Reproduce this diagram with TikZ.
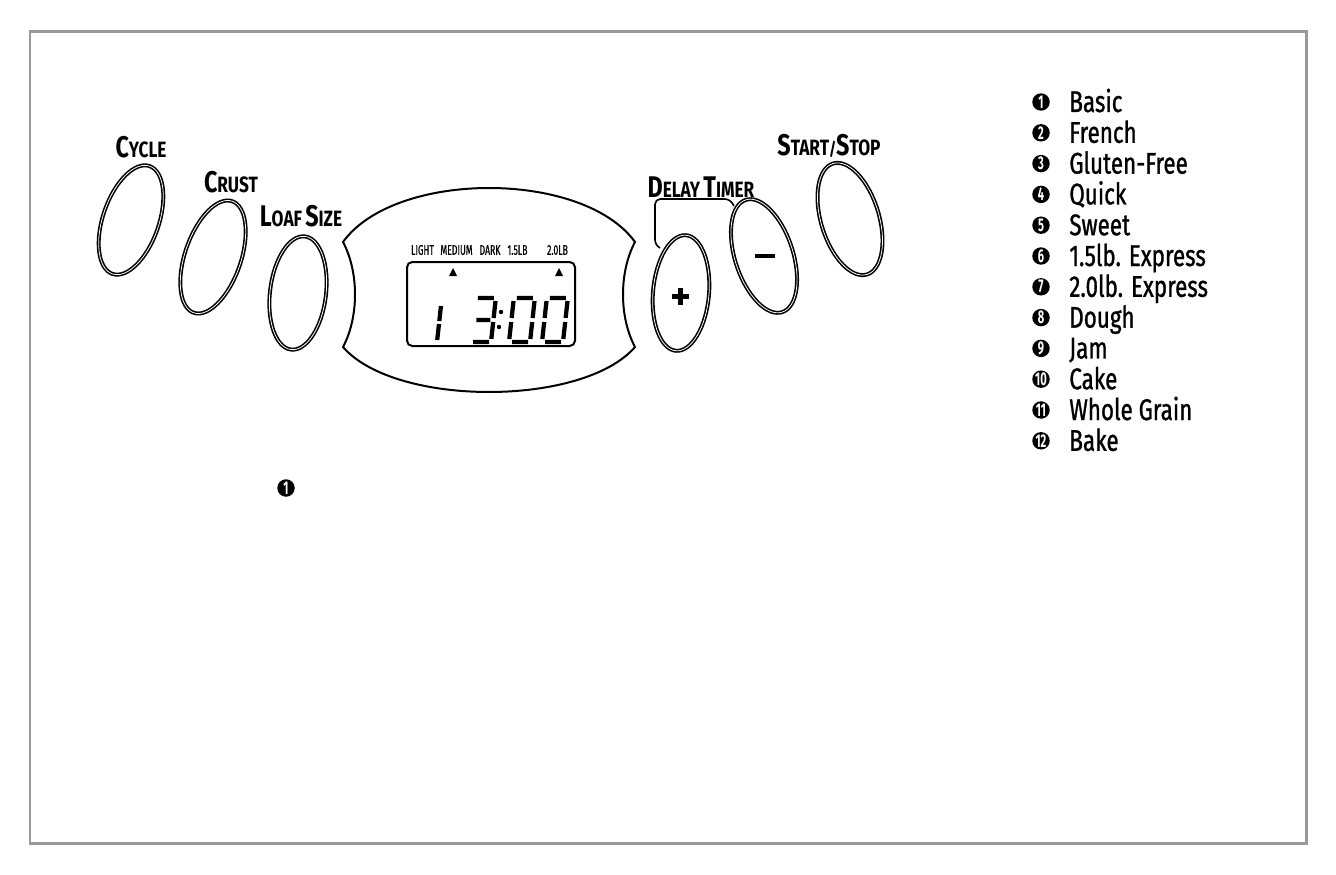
\documentclass[tikz,border=0pt]{standalone}
\usepackage{fontspec}
\setmainfont{Fira Sans}[FakeStretch=0.78]
\newfontfamily\legendfont{Fira Sans}[FakeStretch=0.75, FakeBold=1]
\newfontfamily\lcdfont{Fira Sans}[FakeStretch=0.62, FakeBold=0.6]
\newfontfamily\dotfont{Fira Sans}[FakeStretch=0.6]
\newcommand{\capslabel}[2]{{\fontsize{17}{16}\selectfont #1}{\fontsize{12.6}{12}\selectfont #2}}
\tikzset{
  button/.style={line width=0.9pt, double=white, double distance=0.45pt},
  seg/.style={line width=0.085cm},
  panellabel/.style={inner sep=0pt, font=\bfseries},
  lcdlabel/.style={inner sep=0pt, font=\lcdfont\fontsize{8}{8}\selectfont},
  numdot/.style={circle, fill=black, text=white, inner sep=0pt, minimum size=0.35cm, font=\dotfont\fontsize{10.5}{10}\selectfont\bfseries},
  progname/.style={anchor=base west, inner sep=0pt, font=\legendfont\fontsize{17}{17}\selectfont},
}
\begin{document}
\begin{tikzpicture}[x=0.02cm,y=0.02cm]
\useasboundingbox (0,0) rectangle (1336,-875);
\draw[black!40,line width=0.06cm] (30,-32) rectangle (1306,-843);

% buttons on the left
\node[panellabel] (cycle) at (141,-147) {\capslabel{C}{YCLE}};
\draw[button] (131,-220) ellipse [x radius=28, y radius=57, rotate=-19];
\node[panellabel] (crust) at (231,-182) {\capslabel{C}{RUST}};
\draw[button] (213,-257) ellipse [x radius=28, y radius=59, rotate=-19];
\node[panellabel] (loafsize) at (301,-216) {\capslabel{L}{OAF} \capslabel{S}{IZE}};
\draw[button] (298,-293) ellipse [x radius=28, y radius=57, rotate=-7];

% display
\draw[line width=0.04cm] (343,-242) .. controls (395,-170) and (583,-170) .. (635,-242)
  .. controls (619,-272) and (619,-317) .. (635,-347)
  .. controls (583,-407) and (395,-407) .. (343,-347)
  .. controls (359,-317) and (359,-272) .. cycle;
\draw[line width=0.04cm, rounded corners=3pt] (407,-262) rectangle (575,-346);
\node[lcdlabel] (light) at (422.5,-250) {LIGHT};
\node[lcdlabel] (medium) at (456.5,-250) {MEDIUM};
\node[lcdlabel] (dark) at (490,-250) {DARK};
\node[lcdlabel] (small) at (517.5,-250) {1.5LB};
\node[lcdlabel] (large) at (557.5,-250) {2.0LB};
\fill (449,-276) -- (457,-276) -- (453,-268) -- cycle;
\fill (555,-276) -- (563,-276) -- (559,-268) -- cycle;

% digits
\begin{scope}[shift={(416,-342)},xslant=0.11]
\draw[seg] (21,36)--(21,21) (21,18)--(21,2);
\end{scope}
\begin{scope}[shift={(470,-342)},xslant=0.11]
\draw[seg] (3,44)--(19,44) (21,41)--(21,24) (21,20)--(21,3) (3,0)--(19,0) (4,22)--(18,22);
\end{scope}
\foreach \dx in {509,542}{
  \begin{scope}[shift={(\dx,-342)},xslant=0.11]
  \draw[seg] (3,44)--(19,44) (21,41)--(21,24) (21,20)--(21,3) (3,0)--(19,0) (0,3)--(0,20) (0,24)--(0,41);
  \end{scope}
}
\fill (501,-312) circle (2.2);
\fill (499,-327) circle (2.2);

% buttons on the right
\node[panellabel] (delay) at (701,-187) {\capslabel{D}{ELAY} \capslabel{T}{IMER}};
\draw[line width=0.032cm, rounded corners=3pt] (660,-248) -- (655,-245) -- (655,-199) -- (730,-199) -- (734,-206);
\draw[button] (681,-293) ellipse [x radius=28, y radius=58, rotate=-5];
\draw[line width=0.1cm] (672,-296) -- (689,-296) (680.5,-287.5) -- (680.5,-304.5);
\draw[button] (764,-256) ellipse [x radius=29, y radius=59, rotate=18];
\draw[line width=0.09cm] (755,-256) -- (775,-256);
\node[panellabel] (startstop) at (829,-146) {\capslabel{S}{TART}/\capslabel{S}{TOP}};
\draw[button] (850,-219) ellipse [x radius=29, y radius=58, rotate=17];

% programs
\foreach \prog [count=\i] in {Basic,French,Gluten-Free,Quick,Sweet,1.5lb. Express,2.0lb. Express,Dough,Jam,Cake,Whole Grain,Bake}{
  \pgfmathsetmacro\yy{-102-30.8*(\i-1)}
  \node[numdot] (num\i) at (1041,\yy) {\i};
  \node[progname] (prog\i) at (1069,\yy-10) {\prog};
}
\node[numdot] (note) at (286,-488) {1};
\end{tikzpicture}
\end{document}
